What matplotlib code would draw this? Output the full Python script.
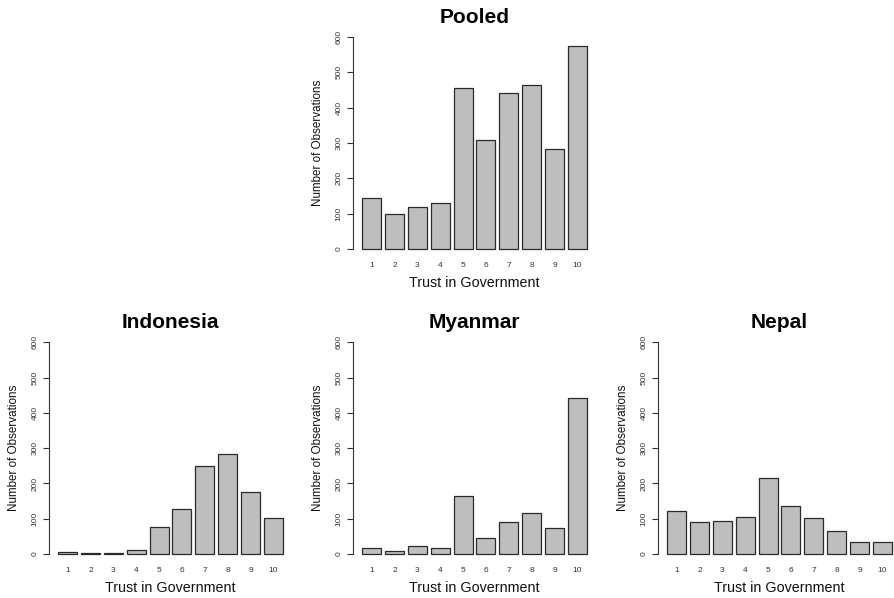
import matplotlib
matplotlib.use("Agg")
import matplotlib.pyplot as plt
import numpy as np

plt.rcParams['font.family'] = ['Liberation Sans', 'DejaVu Sans']

categories = ["1", "2", "3", "4", "5", "6", "7", "8", "9", "10"]
pooled = [145, 100, 118, 130, 455, 309, 442, 464, 282, 575]
indonesia = [6, 2, 2, 11, 76, 128, 249, 283, 175, 102]
myanmar = [17, 8, 22, 16, 164, 46, 91, 117, 74, 441]
nepal = [122, 91, 95, 104, 215, 135, 102, 66, 34, 33]
titles = ["Pooled", "Indonesia", "Myanmar", "Nepal"]
y_ticks = [0, 100, 200, 300, 400, 500, 600]
xlabel = "Trust in Government"
ylabel = "Number of Observations"

W, H = 894, 598
fig = plt.figure(figsize=(W / 100, H / 100), dpi=100)

# axes rects in pixels: left, top, width, height
rects = [
    (353, 28.5, 243, 229),
    (49, 333.8, 243, 228.7),
    (353, 333.8, 243, 228.7),
    (658, 333.8, 243, 228.7),
]
datasets = [pooled, indonesia, myanmar, nepal]

# R barplot geometry: width 1, space 0.2
lefts = 0.2 + 1.2 * np.arange(len(categories))
centers = lefts + 0.5

for (l, t, w, h), vals, title in zip(rects, datasets, titles):
    ax = fig.add_axes([l / W, 1 - (t + h) / H, w / W, h / H])
    ax.bar(centers, vals, width=1.0, color='#BEBEBE', edgecolor='#2a2a2a',
           linewidth=0.9)
    ax.set_xlim(-0.272, 12.472)
    ax.set_ylim(-24, 624)
    for s in ['top', 'right', 'bottom']:
        ax.spines[s].set_visible(False)
    ax.spines['left'].set_bounds(0, 600)
    ax.spines['left'].set_color('#333333')
    ax.spines['left'].set_linewidth(0.8)
    ax.set_yticks(y_ticks)
    ax.set_yticklabels([str(v) for v in y_ticks], rotation=90, va='center',
                       fontsize=6, color='#333333')
    ax.tick_params(axis='y', length=4, width=0.8, color='#333333', pad=3.5)
    ax.set_xticks(centers)
    ax.set_xticklabels(categories, fontsize=6, color='#333333')
    ax.tick_params(axis='x', length=0, pad=3)
    ax.set_title(title, fontsize=15, fontweight='bold', pad=4)
    ax.annotate(xlabel, xy=(0.5, 0), xycoords='axes fraction',
                xytext=(0, -25.5), textcoords='offset pixels',
                ha='center', va='center', fontsize=10.3, color='#111111')
    ax.annotate(ylabel, xy=(0, 0.5), xycoords='axes fraction',
                xytext=(-35, 0), textcoords='offset pixels',
                ha='center', va='center', rotation=90, fontsize=8.4,
                color='#111111')

fig.savefig("out.png", dpi=100)
